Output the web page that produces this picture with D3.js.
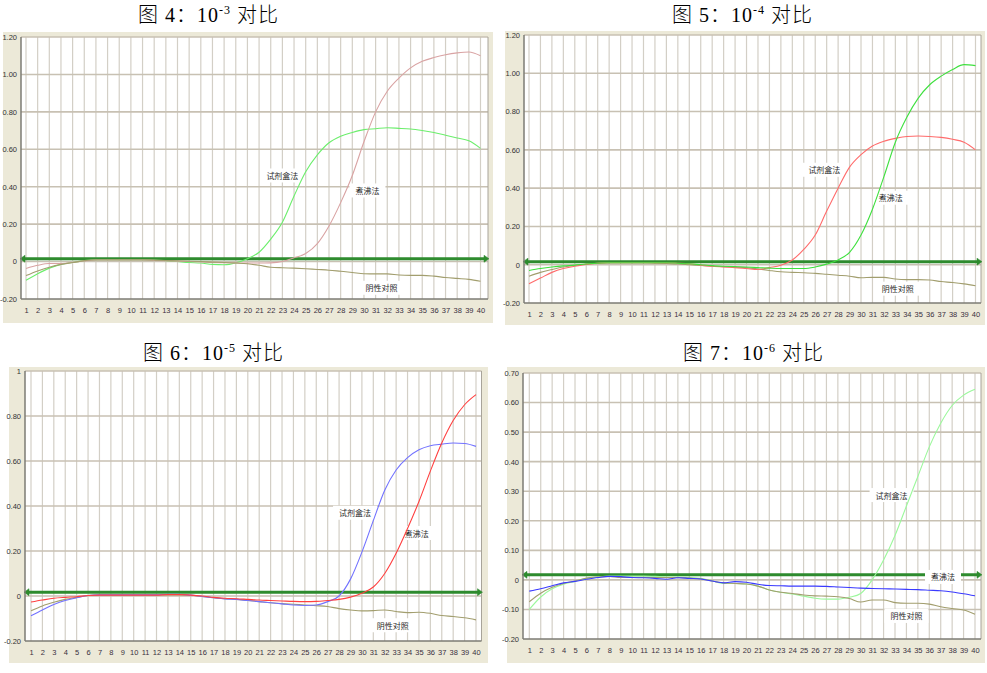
<!DOCTYPE html>
<html>
<head>
<meta charset="utf-8">
<script src="https://cdn.jsdelivr.net/npm/d3@7"></script>
<style>
  html, body { margin: 0; padding: 0; background: #ffffff; }
  svg { display: block; }
</style>
</head>
<body>
<svg id="chart" width="987" height="673"></svg>
<script>
// ---- Cycle numbers (x categories) ----
const cycles = [1,2,3,4,5,6,7,8,9,10,11,12,13,14,15,16,17,18,19,20,
                21,22,23,24,25,26,27,28,29,30,31,32,33,34,35,36,37,38,39,40];
const seriesNames = ["试剂盒法", "煮沸法", "阴性对照"];

// ---- 图4: 10^-3 ----
const fig4Kit  = [-0.100,-0.065,-0.035,-0.015,-0.005,0.005,0.010,0.010,0.010,0.010,0.010,0.008,0.005,0.000,-0.005,-0.008,-0.015,-0.017,-0.007,0.015,
                  0.050,0.120,0.210,0.350,0.480,0.570,0.635,0.670,0.690,0.705,0.710,0.715,0.712,0.708,0.700,0.690,0.675,0.660,0.645,0.605];
const fig4Boil = [-0.037,-0.020,-0.010,-0.010,-0.005,0.003,0.008,0.008,0.008,0.008,0.008,0.006,0.004,0.002,0.000,-0.002,-0.005,-0.006,-0.007,-0.008,
                  -0.008,-0.007,0.000,0.020,0.043,0.096,0.190,0.315,0.460,0.640,0.800,0.910,0.980,1.035,1.070,1.090,1.105,1.115,1.120,1.100];
const fig4Neg  = [-0.075,-0.050,-0.030,-0.015,-0.005,0.005,0.010,0.010,0.010,0.010,0.010,0.008,0.006,0.004,0.002,0.000,-0.003,-0.005,-0.008,-0.012,
                  -0.020,-0.030,-0.033,-0.035,-0.038,-0.042,-0.046,-0.052,-0.058,-0.065,-0.066,-0.066,-0.072,-0.074,-0.074,-0.078,-0.085,-0.090,-0.095,-0.105];
const fig4Threshold = 0.015;
const fig4YTicks  = [-0.2, 0, 0.2, 0.4, 0.6, 0.8, 1.0, 1.2];
const fig4YLabels = ["-0.20", "0", "0.20", "0.40", "0.60", "0.80", "1.00", "1.20"];

// ---- 图5: 10^-4 ----
const fig5Kit  = [-0.100,-0.070,-0.040,-0.020,-0.008,0.002,0.008,0.010,0.010,0.010,0.010,0.010,0.010,0.008,0.005,-0.002,-0.008,-0.012,-0.015,-0.020,
                  -0.025,-0.015,-0.003,0.025,0.080,0.155,0.280,0.400,0.510,0.575,0.620,0.645,0.660,0.670,0.672,0.670,0.665,0.655,0.640,0.600];
const fig5Boil = [-0.030,-0.020,-0.012,-0.006,-0.002,0.004,0.008,0.010,0.010,0.010,0.010,0.010,0.010,0.008,0.005,0.000,-0.005,-0.008,-0.010,-0.012,
                  -0.015,-0.018,-0.020,-0.020,-0.020,-0.012,0.003,0.025,0.065,0.155,0.290,0.460,0.640,0.770,0.870,0.940,0.985,1.020,1.045,1.040];
const fig5Neg  = [-0.060,-0.040,-0.025,-0.012,-0.004,0.004,0.008,0.010,0.010,0.010,0.010,0.008,0.006,0.004,0.000,-0.004,-0.008,-0.010,-0.012,-0.015,
                  -0.022,-0.030,-0.037,-0.040,-0.042,-0.045,-0.050,-0.055,-0.060,-0.068,-0.066,-0.066,-0.075,-0.078,-0.078,-0.080,-0.088,-0.093,-0.100,-0.110];
const fig5Threshold = 0.016;
const fig5YTicks  = [-0.2, 0, 0.2, 0.4, 0.6, 0.8, 1.0, 1.2];
const fig5YLabels = ["-0.20", "0", "0.20", "0.40", "0.60", "0.80", "1.00", "1.20"];

// ---- 图6: 10^-5 ----
const fig6Kit  = [-0.088,-0.062,-0.038,-0.020,-0.008,0.002,0.005,0.005,0.005,0.005,0.005,0.005,0.008,0.008,0.004,-0.002,-0.008,-0.013,-0.015,-0.020,
                  -0.025,-0.030,-0.035,-0.040,-0.042,-0.040,-0.025,0.000,0.075,0.195,0.335,0.470,0.560,0.615,0.650,0.668,0.675,0.680,0.678,0.665];
const fig6Boil = [-0.027,-0.018,-0.010,-0.006,-0.003,0.002,0.004,0.004,0.004,0.004,0.004,0.004,0.006,0.006,0.004,0.000,-0.006,-0.010,-0.012,-0.015,
                  -0.018,-0.020,-0.022,-0.024,-0.025,-0.024,-0.020,-0.015,-0.005,0.012,0.040,0.100,0.190,0.300,0.420,0.555,0.680,0.780,0.850,0.895];
const fig6Neg  = [-0.066,-0.044,-0.028,-0.015,-0.006,0.002,0.005,0.005,0.005,0.005,0.005,0.005,0.005,0.005,0.003,-0.002,-0.008,-0.012,-0.015,-0.020,
                  -0.025,-0.030,-0.034,-0.037,-0.040,-0.043,-0.047,-0.056,-0.062,-0.066,-0.065,-0.062,-0.069,-0.074,-0.072,-0.077,-0.087,-0.091,-0.097,-0.106];
const fig6Threshold = 0.017;
const fig6YTicks  = [-0.2, 0, 0.2, 0.4, 0.6, 0.8, 1.0];
const fig6YLabels = ["-0.20", "0", "0.20", "0.40", "0.60", "0.80", "1"];

// ---- 图7: 10^-6 ----
const fig7Kit  = [-0.100,-0.058,-0.030,-0.015,-0.005,0.005,0.010,0.013,0.013,0.013,0.013,0.012,0.010,0.010,0.008,0.005,-0.003,-0.012,-0.012,-0.014,
                  -0.021,-0.034,-0.042,-0.048,-0.055,-0.062,-0.065,-0.065,-0.059,-0.046,0.000,0.067,0.150,0.250,0.350,0.450,0.530,0.590,0.625,0.645];
const fig7Boil = [-0.038,-0.030,-0.020,-0.010,-0.005,0.002,0.008,0.012,0.011,0.008,0.007,0.005,0.002,0.007,0.005,0.003,-0.004,-0.010,-0.006,-0.008,
                  -0.015,-0.019,-0.020,-0.021,-0.021,-0.021,-0.022,-0.024,-0.026,-0.028,-0.029,-0.030,-0.031,-0.032,-0.033,-0.035,-0.037,-0.041,-0.047,-0.054];
const fig7Neg  = [-0.074,-0.045,-0.025,-0.012,-0.004,0.006,0.010,0.012,0.008,0.008,0.008,0.008,0.008,0.008,0.006,0.004,-0.004,-0.010,-0.012,-0.014,
                  -0.021,-0.034,-0.042,-0.046,-0.051,-0.054,-0.055,-0.057,-0.063,-0.075,-0.068,-0.068,-0.077,-0.079,-0.079,-0.082,-0.091,-0.097,-0.102,-0.116];
const fig7Threshold = 0.017;
const fig7YTicks  = [-0.2, -0.1, 0, 0.1, 0.2, 0.3, 0.4, 0.5, 0.6, 0.7];
const fig7YLabels = ["-0.20", "-0.10", "0", "0.10", "0.20", "0.30", "0.40", "0.50", "0.60", "0.70"];

// ---- Colours ----
const olive = "#a29e6e";

// ---- Panel layout ----
const panels = [
  { num: "4", exp: "-3", titleX: 138, titleY: 22,
    box: { x: 3, y: 32, w: 490, h: 291 },
    plot: { l: 21, t: 37, r: 488, b: 299 }, xFirst: 26, xLast: 480.5,
    yDomain: [-0.2, 1.2], yTicks: fig4YTicks, yLabels: fig4YLabels, threshold: fig4Threshold,
    series: [
      { values: fig4Kit,  color: "#6cee6c", name: seriesNames[0], lx: 23.0, ly: 0.46 },
      { values: fig4Boil, color: "#d9a3a3", name: seriesNames[1], lx: 30.3, ly: 0.38 },
      { values: fig4Neg,  color: olive,     name: seriesNames[2], lx: 31.5, ly: -0.14 }
    ] },
  { num: "5", exp: "-4", titleX: 672, titleY: 22,
    box: { x: 505, y: 31, w: 480, h: 294 },
    plot: { l: 524, t: 35, r: 981, b: 303 }, xFirst: 529, xLast: 975.5,
    yDomain: [-0.2, 1.2], yTicks: fig5YTicks, yLabels: fig5YLabels, threshold: fig5Threshold,
    series: [
      { values: fig5Neg,  color: olive,     name: seriesNames[2], lx: 33.2, ly: -0.125 },
      { values: fig5Kit,  color: "#ff6b6b", name: seriesNames[0], lx: 26.8, ly: 0.496 },
      { values: fig5Boil, color: "#3ee03e", name: seriesNames[1], lx: 32.6, ly: 0.35 }
    ] },
  { num: "6", exp: "-5", titleX: 143, titleY: 360,
    box: { x: 9, y: 367, w: 479, h: 296 },
    plot: { l: 25, t: 371, r: 481.5, b: 641 }, xFirst: 31, xLast: 476,
    yDomain: [-0.2, 1.0], yTicks: fig6YTicks, yLabels: fig6YLabels, threshold: fig6Threshold,
    series: [
      { values: fig6Neg,  color: olive,     name: seriesNames[2], lx: 32.7, ly: -0.13 },
      { values: fig6Kit,  color: "#7272ff", name: seriesNames[0], lx: 29.4, ly: 0.37 },
      { values: fig6Boil, color: "#ff4040", name: seriesNames[1], lx: 34.8, ly: 0.28 }
    ] },
  { num: "7", exp: "-6", titleX: 683, titleY: 360,
    box: { x: 507, y: 367, w: 478, h: 296 },
    plot: { l: 523, t: 373, r: 981, b: 639 }, xFirst: 529.3, xLast: 975,
    yDomain: [-0.2, 0.7], yTicks: fig7YTicks, yLabels: fig7YLabels, threshold: fig7Threshold,
    series: [
      { values: fig7Kit,  color: "#9cf89c", name: seriesNames[0], lx: 32.7, ly: 0.287 },
      { values: fig7Neg,  color: olive,     name: seriesNames[2], lx: 34.0, ly: -0.122 },
      { values: fig7Boil, color: "#3a3aff", name: seriesNames[1], lx: 37.2, ly: 0.01 }
    ] }
];

const svg = d3.select("#chart");
const tickFont = "'Liberation Sans Narrow', 'Liberation Sans', Arial, sans-serif";
const cjkFont = "'Noto Sans CJK SC', sans-serif";

panels.forEach((p, pi) => {
  const g = svg.append("g");

  // title: 图 N：10^e 对比
  const title = g.append("text")
    .attr("x", p.titleX).attr("y", p.titleY)
    .attr("font-family", "'Liberation Serif', 'Noto Sans CJK SC', serif")
    .attr("font-weight", 300)
    .attr("letter-spacing", 1)
    .attr("font-size", 20).attr("fill", "#000");
  title.append("tspan").text("图 " + p.num + "：10");
  title.append("tspan").attr("font-size", 12).attr("dy", -8).text(p.exp);
  title.append("tspan").attr("font-size", 20).attr("dy", 8).text(" 对比");

  // window frame
  g.append("rect")
    .attr("x", p.box.x).attr("y", p.box.y)
    .attr("width", p.box.w).attr("height", p.box.h)
    .attr("fill", "#ece9d8");

  const x = d3.scaleLinear().domain([cycles[0], cycles[cycles.length - 1]]).range([p.xFirst, p.xLast]);
  const y = d3.scaleLinear().domain(p.yDomain).range([p.plot.b, p.plot.t]);

  const clipId = "clip" + pi;
  g.append("clipPath").attr("id", clipId).append("rect")
    .attr("x", p.plot.l).attr("y", p.plot.t)
    .attr("width", p.plot.r - p.plot.l).attr("height", p.plot.b - p.plot.t);

  // plot background
  g.append("rect")
    .attr("x", p.plot.l).attr("y", p.plot.t)
    .attr("width", p.plot.r - p.plot.l).attr("height", p.plot.b - p.plot.t)
    .attr("fill", "#ffffff");

  // vertical grid at every cycle
  g.append("g").selectAll("line").data(cycles).join("line")
    .attr("x1", d => x(d)).attr("x2", d => x(d))
    .attr("y1", p.plot.t).attr("y2", p.plot.b)
    .attr("stroke", "#d3cfc6").attr("stroke-width", 1.2);

  // horizontal grid at each value tick
  g.append("g").selectAll("line").data(p.yTicks.slice(1)).join("line")
    .attr("x1", p.plot.l).attr("x2", p.plot.r)
    .attr("y1", d => y(d)).attr("y2", d => y(d))
    .attr("stroke", "#c8c1b3").attr("stroke-width", 1.6);

  // right edge of the plot
  g.append("line")
    .attr("x1", p.plot.r).attr("x2", p.plot.r)
    .attr("y1", p.plot.t).attr("y2", p.plot.b)
    .attr("stroke", "#a8a49a").attr("stroke-width", 1);

  // threshold line with arrow heads at both ends
  const ty = y(p.threshold);
  const thr = g.append("g").attr("fill", "#2e8b2e").attr("stroke", "#2e8b2e");
  thr.append("line")
    .attr("x1", p.plot.l + 2).attr("x2", p.plot.r - 2)
    .attr("y1", ty).attr("y2", ty)
    .attr("stroke-width", 3);
  thr.append("path")
    .attr("d", `M${p.plot.l - 1},${ty} L${p.plot.l + 4},${ty - 3.5} L${p.plot.l + 4},${ty + 3.5} Z`)
    .attr("stroke-width", 0.5);
  thr.append("path")
    .attr("d", `M${p.plot.r + 1},${ty} L${p.plot.r - 4},${ty - 3.5} L${p.plot.r - 4},${ty + 3.5} Z`)
    .attr("stroke-width", 0.5);

  // series labels on white boxes
  p.series.forEach(s => {
    const lx = x(s.lx), ly = y(s.ly);
    const w = s.name.length * 8 + 12;
    g.append("rect")
      .attr("x", lx - w / 2).attr("y", ly - 7)
      .attr("width", w).attr("height", 14)
      .attr("fill", "#ffffff");
    g.append("text")
      .attr("x", lx).attr("y", ly)
      .attr("text-anchor", "middle").attr("dominant-baseline", "central")
      .attr("font-family", cjkFont).attr("font-size", 8)
      .attr("fill", "#2a2a2a")
      .text(s.name);
  });

  // curves
  const line = d3.line()
    .x((d, i) => x(cycles[i]))
    .y(d => y(d))
    .curve(d3.curveMonotoneX);
  const curves = g.append("g").attr("clip-path", `url(#${clipId})`);
  p.series.forEach(s => {
    curves.append("path")
      .datum(s.values)
      .attr("d", line)
      .attr("fill", "none")
      .attr("stroke", s.color)
      .attr("stroke-width", 1.1);
  });

  // axes
  const yAxis = d3.axisLeft(y)
    .tickValues(p.yTicks)
    .tickFormat((d, i) => p.yLabels[i])
    .tickSize(0).tickPadding(4);
  const ya = g.append("g").attr("transform", `translate(${p.plot.l},0)`).call(yAxis);
  ya.select(".domain").remove();
  ya.selectAll("text")
    .attr("font-family", tickFont).attr("font-size", 7.5).attr("fill", "#333");

  const xAxis = d3.axisBottom(x)
    .tickValues(cycles)
    .tickFormat((d, i) => String(cycles[i]))
    .tickSize(0).tickPadding(9);
  const xa = g.append("g").attr("transform", `translate(0,${p.plot.b})`).call(xAxis);
  xa.select(".domain").remove();
  xa.selectAll("text")
    .attr("font-family", tickFont).attr("font-size", 7.5).attr("fill", "#3a3040");

  // axis lines
  g.append("line")
    .attr("x1", p.plot.l).attr("x2", p.plot.l)
    .attr("y1", p.plot.t).attr("y2", p.plot.b)
    .attr("stroke", "#7d7b74").attr("stroke-width", 1.5);
  g.append("line")
    .attr("x1", p.plot.l).attr("x2", p.plot.r)
    .attr("y1", p.plot.b).attr("y2", p.plot.b)
    .attr("stroke", "#7d7b74").attr("stroke-width", 1.5);
});
</script>
</body>
</html>
